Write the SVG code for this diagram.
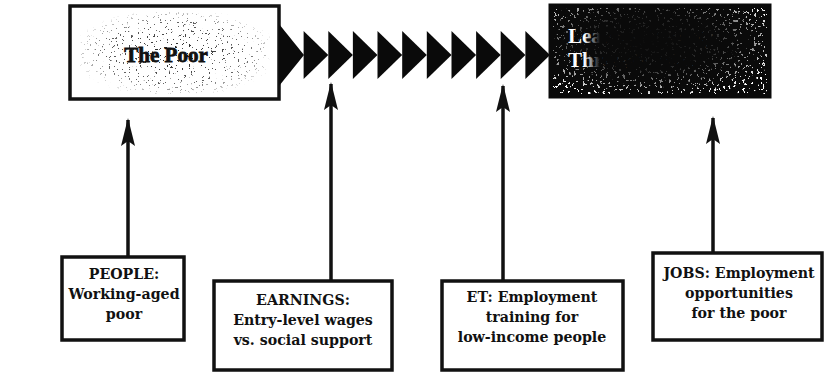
<svg xmlns="http://www.w3.org/2000/svg" width="832" height="377" viewBox="0 0 832 377">
  <style>
    .box { fill: #ffffff; stroke: #111; stroke-width: 3.5; }
    .lbl { font-family: "DejaVu Serif", "Liberation Serif", serif; font-size: 14.2px; font-weight: bold; fill: #111; text-anchor: middle; }
    .title { font-family: "Liberation Serif", "DejaVu Serif", serif; font-size: 21px; font-weight: bold; }
    .shaft { stroke: #111; stroke-width: 3.5; fill: none; }
    .chev { fill: #0a0a0a; }
  </style>
  <defs>
    <!-- sparse black grain, limited by the alpha of the shape it is applied to -->
    <filter id="grainDark" x="0" y="0" width="1" height="1">
      <feTurbulence type="fractalNoise" baseFrequency="0.45" numOctaves="3" seed="4" result="n"/>
      <feColorMatrix in="n" type="matrix" values="0 0 0 0 0  0 0 0 0 0  0 0 0 0 0  -45 0 0 0 14" result="dots"/>
      <feComposite in="dots" in2="SourceGraphic" operator="in"/>
    </filter>
    <!-- white grain for the dark box -->
    <filter id="grainLight" x="0" y="0" width="1" height="1">
      <feTurbulence type="fractalNoise" baseFrequency="0.35" numOctaves="3" seed="9" result="n"/>
      <feColorMatrix in="n" type="matrix" values="0 0 0 0 1  0 0 0 0 1  0 0 0 0 1  -40 0 0 0 14" result="dots"/>
      <feComposite in="dots" in2="SourceGraphic" operator="in"/>
    </filter>
    <radialGradient id="centerFade" cx="0.5" cy="0.5" r="0.55">
      <stop offset="0" stop-color="#000" stop-opacity="0.9"/>
      <stop offset="0.7" stop-color="#000" stop-opacity="0.6"/>
      <stop offset="1" stop-color="#000" stop-opacity="0"/>
    </radialGradient>
    <radialGradient id="edgeFade" cx="0.45" cy="0.4" r="0.65">
      <stop offset="0" stop-color="#000" stop-opacity="0"/>
      <stop offset="0.5" stop-color="#000" stop-opacity="0.15"/>
      <stop offset="1" stop-color="#000" stop-opacity="1"/>
    </radialGradient>
    <linearGradient id="titleFade" gradientUnits="userSpaceOnUse" x1="565" y1="0" x2="600" y2="0">
      <stop offset="0" stop-color="#fff"/>
      <stop offset="0.55" stop-color="#fff"/>
      <stop offset="1" stop-color="#0a0a0a"/>
    </linearGradient>
    <!-- arrowhead drawn along +x so it follows the shaft direction -->
    <marker id="head" viewBox="0 0 28 14" refX="26" refY="7" markerWidth="28" markerHeight="14" markerUnits="userSpaceOnUse" orient="auto">
      <path d="M28 7 L0 0 L5 7 L0 14 Z" fill="#111"/>
    </marker>
  </defs>

  <!-- source: The Poor -->
  <g id="node-poor">
    <rect class="box" x="70" y="6" width="209" height="93"/>
    <rect x="80" y="12" width="190" height="82" fill="url(#centerFade)" filter="url(#grainDark)"/>
    <text class="title" x="166" y="62" text-anchor="middle" fill="#111" stroke="#111" stroke-width="0.8" font-size="22">The Poor</text>
  </g>

  <!-- goal: dark panel -->
  <g id="node-goal">
    <rect x="550" y="5" width="220" height="92" fill="#0a0a0a" stroke="#0a0a0a" stroke-width="3"/>
    <rect x="553" y="8" width="214" height="86" fill="url(#edgeFade)" filter="url(#grainLight)"/>
    <text class="title" x="568" y="43" fill="url(#titleFade)">Leaving Poverty</text>
    <text class="title" x="568" y="67" fill="url(#titleFade)">Through Jobs</text>
  </g>

  <!-- inputs -->
  <g id="node-people">
    <rect class="box" x="62" y="257" width="122" height="83"/>
    <text class="lbl" x="124" y="279">PEOPLE:</text>
    <text class="lbl" x="124" y="299">Working-aged</text>
    <text class="lbl" x="124" y="319">poor</text>
  </g>
  <g id="node-earnings">
    <rect class="box" x="214" y="281" width="178" height="89"/>
    <text class="lbl" x="303" y="305">EARNINGS:</text>
    <text class="lbl" x="303" y="325">Entry-level wages</text>
    <text class="lbl" x="303" y="345">vs. social support</text>
  </g>
  <g id="node-et">
    <rect class="box" x="442" y="281" width="181" height="89"/>
    <text class="lbl" x="532" y="302">ET: Employment</text>
    <text class="lbl" x="532" y="322">training for</text>
    <text class="lbl" x="532" y="342">low-income people</text>
  </g>
  <g id="node-jobs">
    <rect class="box" x="653" y="253" width="169" height="87"/>
    <text class="lbl" x="739" y="278">JOBS: Employment</text>
    <text class="lbl" x="739" y="298">opportunities</text>
    <text class="lbl" x="739" y="318">for the poor</text>
  </g>

  <g id="connectors">
    <!-- chevron band from The Poor to the goal panel -->
    <g id="chevrons">
      <polygon class="chev" points="279,24 304,55 279,86"/>
      <polygon class="chev" points="303.6,31 328.3,55 303.6,79"/>
      <polygon class="chev" points="328.3,31 352.9,55 328.3,79"/>
      <polygon class="chev" points="352.9,31 377.5,55 352.9,79"/>
      <polygon class="chev" points="377.5,31 402.2,55 377.5,79"/>
      <polygon class="chev" points="402.2,31 426.8,55 402.2,79"/>
      <polygon class="chev" points="426.8,31 451.5,55 426.8,79"/>
      <polygon class="chev" points="451.5,31 476.1,55 451.5,79"/>
      <polygon class="chev" points="476.1,31 500.7,55 476.1,79"/>
      <polygon class="chev" points="500.7,31 525.4,55 500.7,79"/>
      <polygon class="chev" points="525.4,31 550,55 525.4,79"/>
    </g>
    <!-- vertical inputs -->
    <line class="shaft" x1="128" y1="257" x2="128" y2="120" marker-end="url(#head)"/>
    <line class="shaft" x1="331" y1="281" x2="331" y2="84" marker-end="url(#head)"/>
    <line class="shaft" x1="503" y1="281" x2="503" y2="86" marker-end="url(#head)"/>
    <line class="shaft" x1="713" y1="253" x2="713" y2="118" marker-end="url(#head)"/>
  </g>
</svg>
